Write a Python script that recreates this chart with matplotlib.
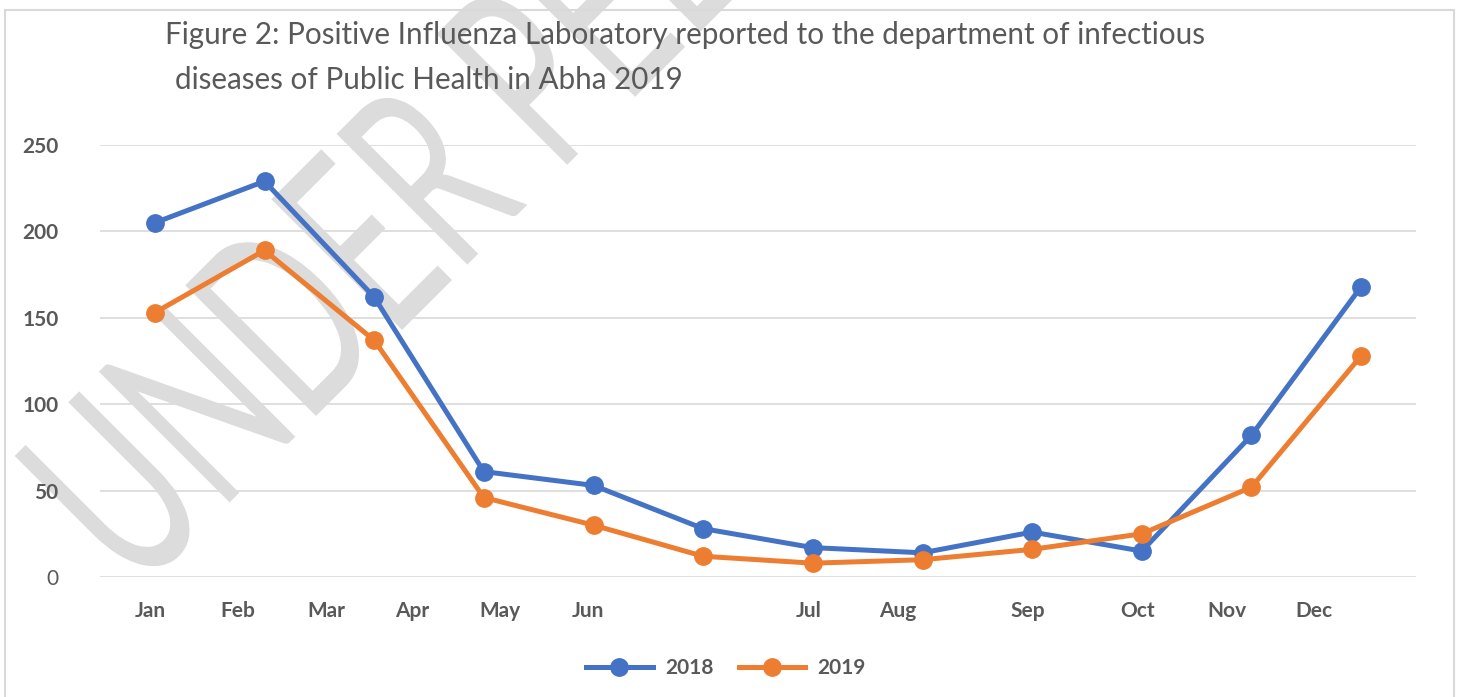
import numpy as np
import matplotlib
matplotlib.use("Agg")
import matplotlib.pyplot as plt
from matplotlib.textpath import TextPath
from matplotlib.patches import PathPatch, Rectangle
from matplotlib.font_manager import FontProperties
from matplotlib.transforms import Affine2D

months = ['Jan', 'Feb', 'Mar', 'Apr', 'May', 'Jun', 'Jul', 'Aug', 'Sep', 'Oct', 'Nov', 'Dec']
cases_2018 = [205, 229, 162, 61, 53, 28, 17, 14, 26, 15, 82, 168]
cases_2019 = [153, 189, 137, 46, 30, 12, 8, 10, 16, 25, 52, 128]
# the month labels in the original sit off the points
label_pos = [-0.04, 0.76, 1.56, 2.35, 3.15, 3.95, 5.96, 6.77, 7.96, 8.96, 9.78, 10.57]
yticks = [0, 50, 100, 150, 200, 250]

title1 = "Figure 2: Positive Influenza Laboratory reported to the department of infectious"
title2 = "diseases of Public Health in Abha 2019"

blue = '#4472C4'
orange = '#ED7D31'
txt = '#595959'
W, H = 1457, 697

plt.rcParams['font.family'] = ['Lato', 'DejaVu Sans']
fig = plt.figure(figsize=(W / 100, H / 100), dpi=100)
ax = fig.add_axes([100 / W, 1 - 577 / H, 1316 / W, 432 / H])

x = np.arange(len(months))
ax.plot(x, cases_2018, color=blue, lw=3.6, marker='o', ms=12.5, label='2018', zorder=3, clip_on=False)
ax.plot(x, cases_2019, color=orange, lw=3.6, marker='o', ms=12.5, label='2019', zorder=3, clip_on=False)

ax.set_xlim(-0.5, 11.5)
ax.set_ylim(0, 250)
ax.set_yticks(yticks)
ax.set_yticklabels([str(v) for v in yticks], fontsize=15, fontweight='bold', color=txt)
ax.get_yticklabels()[0].set_fontweight('normal')
ax.set_xticks(label_pos)
ax.set_xticklabels(months, fontsize=15, fontweight='bold', color=txt)
ax.tick_params(axis='y', length=0, pad=30)
ax.tick_params(axis='x', length=0, pad=17)
# grid drawn by hand so tick labels can sit above the watermark
for v in yticks:
    ax.axhline(v, color='#D9D9D9', lw=1.2, zorder=0.5)
ax.set_axisbelow(False)
for s in ax.spines.values():
    s.set_visible(False)

# watermark, squeezed along the baseline like the original
fp = FontProperties(family='Lato', weight='normal')
wm = "UNDER PEER REVIEW"
tp = TextPath((0, 0), wm, size=100, prop=fp)
d_off = TextPath((0, 0), "UND", size=100, prop=fp).get_extents().x1 - \
    TextPath((0, 0), "D", size=100, prop=fp).get_extents().width
sx, sy = 1.6, 2.58
ang = 45
rot = Affine2D().scale(sx, sy).rotate_deg(ang)
dx, dy = rot.transform((d_off, 0))
tr = Affine2D().scale(sx, sy).rotate_deg(ang).translate(316 - dx, (H - 416) - dy)
patch = PathPatch(tp, transform=tr, fc='#DCDCDC', ec='none', zorder=1)
ax.add_artist(patch)
patch.set_clip_on(False)

fig.text(165 / W, 1 - 44 / H, title1, ha='left', va='baseline', fontsize=21.3, color=txt)
fig.text(175 / W, 1 - 89 / H, title2, ha='left', va='baseline', fontsize=21.3, color=txt)

leg = ax.legend(loc='center', bbox_to_anchor=(726 / W, 1 - 668 / H), bbox_transform=fig.transFigure,
                ncol=2, frameon=False, handlelength=3.2, handletextpad=0.6, columnspacing=1.2,
                prop={'size': 15, 'weight': 'bold'})
for t in leg.get_texts():
    t.set_color(txt)

fig.add_artist(Rectangle((5 / W, -0.05), 1449 / W, (H - 10) / H + 0.05, fill=False,
                         ec='#D9D9D9', lw=1.5, transform=fig.transFigure))

fig.savefig('out.png', dpi=100)
